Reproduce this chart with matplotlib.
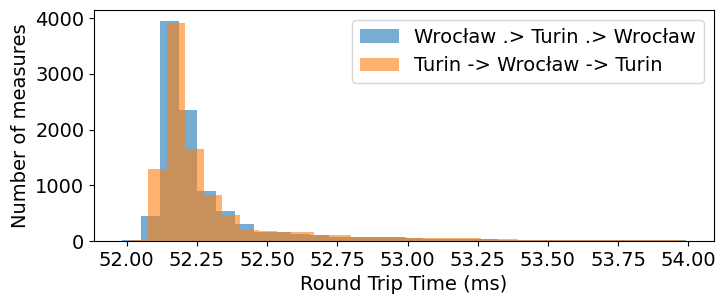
import numpy as np
import matplotlib
matplotlib.use('Agg')
from matplotlib import pyplot as plt

# histogram counts (30 bins each)
wro_counts = [18, 450, 3946, 2350, 900, 538, 305, 160, 155, 120,
              100, 78, 72, 72, 72, 48, 46, 42, 40, 36,
              18, 18, 16, 16, 16, 16, 16, 16, 16, 16]
tur_counts = [12, 1290, 3910, 1650, 825, 466, 197, 180, 155, 155,
              105, 105, 75, 75, 75, 50, 50, 54, 54, 30,
              36, 18, 16, 16, 16, 16, 16, 16, 16, 16]
wro_range = (51.984, 53.991)
tur_range = (52.010, 53.985)

labels = ['Wrocław .> Turin .> Wrocław', 'Turin -> Wrocław -> Turin']

plt.rcParams['font.size'] = 14

fig = plt.figure(figsize=(7.24, 3.04), dpi=100)
ax = fig.add_axes([0.130, 0.207, 0.856, 0.760])

wro_edges = np.linspace(wro_range[0], wro_range[1], len(wro_counts) + 1)
tur_edges = np.linspace(tur_range[0], tur_range[1], len(tur_counts) + 1)

ax.hist(wro_edges[:-1], bins=wro_edges, weights=wro_counts, alpha=0.6, label=labels[0])
ax.hist(tur_edges[:-1], bins=tur_edges, weights=tur_counts, alpha=0.6, label=labels[1])

ax.set_xlabel('Round Trip Time (ms)')
ax.set_ylabel('Number of measures')
ax.legend(loc='upper right')

fig.savefig('out.png', dpi=100)
